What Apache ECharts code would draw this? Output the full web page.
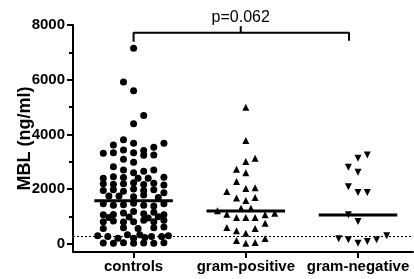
<!DOCTYPE html>
<html>
<head>
<meta charset="utf-8">
<script src="https://cdn.jsdelivr.net/npm/echarts@6/dist/echarts.min.js"></script>
<style>
  html, body { margin: 0; padding: 0; background: #fff; }
  #main { width: 414px; height: 279px; }
</style>
</head>
<body>
<div id="main"></div>
<script>
const groups = ['controls', 'gram-positive', 'gram-negative'];

// controls (MBL ng/ml) and horizontal scatter offset of each dot
const controlsValues = [
  7150, 5920, 5600, 4690, 4390,
  3800, 3610, 3680, 3530, 3680,
  3310, 3330, 3430, 3330, 3410, 3240, 3250,
  3090, 2980,
  2820, 2700, 2600, 2650, 2700,
  2400, 2450, 2420, 2400, 2400, 2430,
  2200, 2180, 2200, 2230, 2170, 2210, 2150,
  1950, 1980, 1920, 2000, 1950, 1980, 1870,
  1750, 1750, 1720, 1780, 1690,
  1460, 1410, 1430, 1480, 1410, 1380, 1460,
  1060, 1070, 1130, 1180, 1100, 1150, 1060,
  960, 980, 940, 990,
  810, 830, 800, 810, 860, 810, 860,
  560, 590, 560, 590, 610,
  290, 270, 200, 330, 200, 330, 230, 270, 270, 290,
  30, 20, 40, 20, 30, 20, 40
];
const controlsJitter = [
  0, -0.09, 0, 0.09, 0,
  -0.09, -0.18, 0, 0.18, 0.27,
  -0.27, -0.18, -0.09, 0, 0.09, 0.09, 0.18,
  -0.09, 0,
  -0.18, -0.09, 0, 0.09, 0.18,
  -0.27, -0.18, -0.09, 0.04, 0.13, 0.27,
  -0.27, -0.18, -0.09, 0, 0.09, 0.18, 0.27,
  -0.27, -0.18, -0.09, 0, 0.09, 0.18, 0.27,
  -0.22, -0.13, 0, 0.09, 0.22,
  -0.27, -0.18, -0.09, 0, 0.09, 0.18, 0.27,
  -0.27, -0.18, -0.09, 0, 0.09, 0.18, 0.27,
  -0.22, -0.04, 0.13, 0.22,
  -0.27, -0.18, -0.09, 0, 0.09, 0.18, 0.27,
  -0.27, -0.09, 0.04, 0.18, 0.27,
  -0.32, -0.23, -0.14, -0.055, 0, 0.055, 0.1, 0.16, 0.25, 0.31,
  -0.27, -0.18, -0.09, 0, 0.09, 0.18, 0.27
];

const gramPosValues = [
  4990, 3780, 3010, 3130, 2730, 2600, 2280,
  1910, 2020, 2045, 1670, 1580, 1690,
  1205, 1300, 1300, 1084, 962, 962, 962, 1059, 1120,
  596, 475, 560, 755, 390,
  122, 24, 49, 195
];
const gramPosJitter = [
  0, 0, 0, 0.083, -0.083, 0, -0.083,
  -0.169, 0, 0.083, -0.083, 0, 0.083,
  -0.253, -0.042, 0.045, -0.169, -0.083, 0, 0.083, 0.172, 0.258,
  -0.169, -0.083, 0.083, 0.172, 0,
  -0.083, 0, 0.083, 0.172
];

const gramNegValues = [
  2800, 2620, 3130, 3250, 2090, 1875, 1875,
  1060, 816, 183, 146, 24, 85, 146, 292
];
const gramNegJitter = [
  -0.086, 0, 0, 0.083, -0.086, 0, 0.083,
  -0.086, 0, -0.172, -0.086, 0, 0.083, 0.166, 0.256
];

const medians = [1570, 1200, 1050];
const detectionLimit = 280;
const yLabelTicks = [0, 2000, 4000, 6000, 8000];
const yMinorTicks = [1000, 3000, 5000, 7000];
const pValueText = 'p=0.062';

const font = '"Liberation Sans", Arial, sans-serif';
const gridLeft = 73;
const gridRight = 1;
const chartWidth = 414;

const toPoints = (values, jitter, pos) => values.map((v, i) => [pos + jitter[i], v]);

const medianSeries = medians.map((m, i) => ({
  type: 'line',
  data: [[i - 0.35, m], [i + 0.35, m]],
  symbol: 'none',
  lineStyle: { color: '#000', width: 3 },
  silent: true,
  z: 5
}));

const dotStyle = { color: '#000', opacity: 1 };

const myChart = echarts.init(document.getElementById('main'));

const option = {
  animation: false,
  grid: {
    left: gridLeft,
    right: gridRight,
    top: 25,
    bottom: 27,
    containLabel: false,
    outerBoundsMode: 'none'
  },
  xAxis: {
    type: 'value',
    min: -0.54,
    max: 2.49,
    splitLine: { show: false },
    axisLine: { show: true, onZero: false, lineStyle: { color: '#000', width: 2 } },
    axisTick: {
      show: true,
      customValues: [0, 1, 2],
      length: 6,
      lineStyle: { color: '#000', width: 2 }
    },
    axisLabel: {
      customValues: [0, 1, 2],
      formatter: (v) => groups[Math.round(v)],
      color: '#000',
      fontFamily: font,
      fontWeight: 'bold',
      fontSize: 15,
      margin: 7
    }
  },
  yAxis: [
    {
      type: 'value',
      min: -300,
      max: 8000,
      position: 'left',
      name: 'MBL (ng/ml)',
      nameLocation: 'middle',
      nameGap: 39,
      nameMoveOverlap: false,
      nameTextStyle: {
        color: '#000',
        fontFamily: font,
        fontWeight: 'bold',
        fontSize: 18
      },
      splitLine: { show: false },
      axisLine: { show: true, onZero: false, lineStyle: { color: '#000', width: 2 } },
      axisTick: {
        show: true,
        customValues: yLabelTicks,
        length: 6,
        lineStyle: { color: '#000', width: 2 }
      },
      axisLabel: {
        customValues: yLabelTicks,
        formatter: (v) => String(v),
        color: '#000',
        fontFamily: font,
        fontWeight: 'bold',
        fontSize: 15,
        margin: 8
      }
    },
    {
      // minor ticks: a second axis moved over onto the left edge
      type: 'value',
      min: -300,
      max: 8000,
      position: 'right',
      offset: -(chartWidth - gridLeft - gridRight),
      splitLine: { show: false },
      axisLine: { show: false, onZero: false },
      axisTick: {
        show: true,
        inside: true,
        customValues: yMinorTicks,
        length: 4,
        lineStyle: { color: '#000', width: 2 }
      },
      axisLabel: { show: false }
    }
  ],
  series: [
    {
      type: 'scatter',
      data: toPoints(controlsValues, controlsJitter, 0),
      symbol: 'circle',
      symbolSize: 7,
      itemStyle: dotStyle,
      z: 3
    },
    {
      type: 'scatter',
      data: toPoints(gramPosValues, gramPosJitter, 1),
      symbol: 'triangle',
      symbolSize: 7,
      itemStyle: dotStyle,
      z: 3
    },
    {
      type: 'scatter',
      data: toPoints(gramNegValues, gramNegJitter, 2),
      symbol: 'triangle',
      symbolRotate: 180,
      symbolSize: 7,
      itemStyle: dotStyle,
      z: 3
    },
    ...medianSeries,
    {
      type: 'line',
      data: [],
      silent: true,
      markLine: {
        silent: true,
        symbol: 'none',
        label: { show: false },
        lineStyle: { color: '#000', width: 1, type: [2, 2], opacity: 1 },
        data: [{ yAxis: detectionLimit }]
      }
    },
    {
      // significance bracket between controls and gram-negative
      type: 'line',
      data: [[0, 7390], [0, 7720], [1.92, 7720], [1.92, 7420]],
      symbol: 'none',
      lineStyle: { color: '#000', width: 2 },
      silent: true
    },
    {
      type: 'line',
      data: [[0.955, 7720], [0.955, 7960]],
      symbol: 'none',
      lineStyle: { color: '#000', width: 2 },
      silent: true
    },
    {
      type: 'scatter',
      data: [[0.955, 7960]],
      symbolSize: 0,
      silent: true,
      itemStyle: dotStyle,
      label: {
        show: true,
        position: 'top',
        distance: 1,
        formatter: pValueText,
        color: '#000',
        opacity: 1,
        fontFamily: font,
        fontSize: 16
      }
    }
  ]
};

myChart.setOption(option);
</script>
</body>
</html>
